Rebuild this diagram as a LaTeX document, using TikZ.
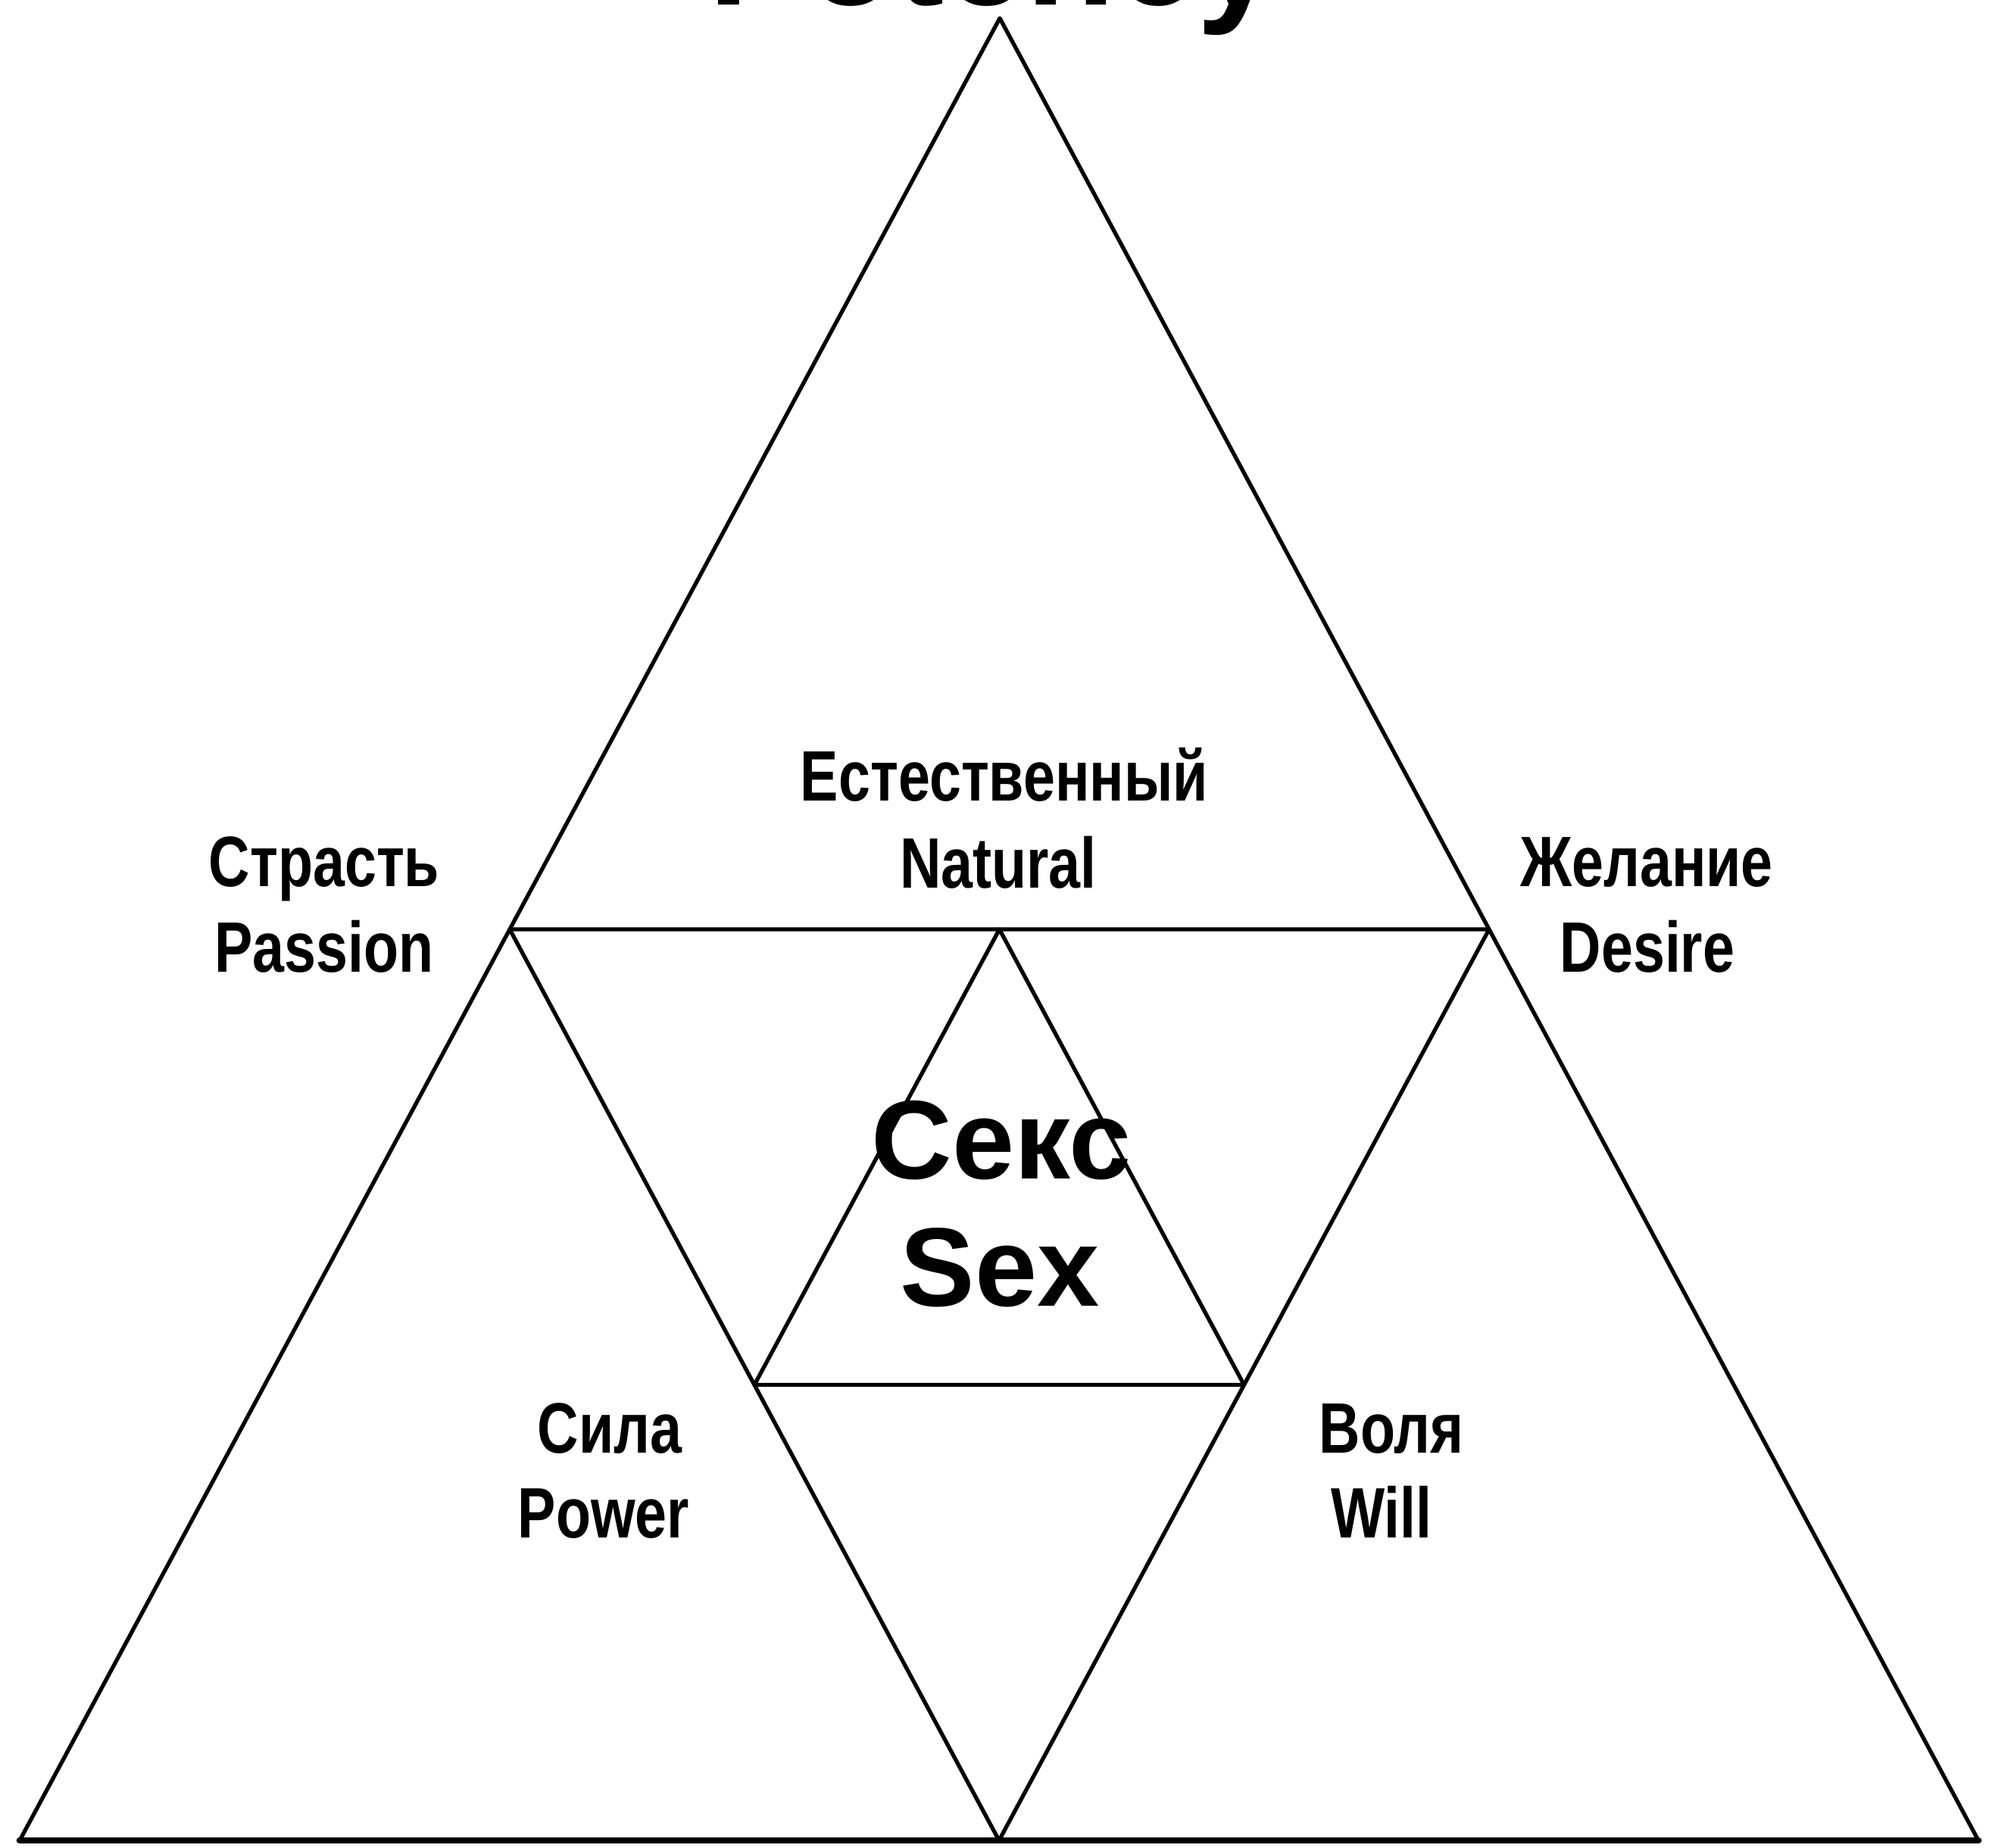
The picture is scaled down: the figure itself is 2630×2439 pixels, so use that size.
\documentclass[tikz,border=0pt]{standalone}
\usepackage{fontspec}
\setmainfont{Liberation Sans}
\newfontfamily\narrowsans[FakeStretch=0.80]{Liberation Sans}
\usetikzlibrary{calc}
\tikzset{
  edge/.style={line width=1.5pt},
  lbl/.style={anchor=base,inner sep=0pt,font=\narrowsans\bfseries\fontsize{26.8pt}{32pt}\selectfont},
  core/.style={anchor=base,inner sep=0pt,font=\bfseries\fontsize{42pt}{50pt}\selectfont},
  headline/.style={anchor=base,inner sep=0pt,font=\bfseries\fontsize{55pt}{66pt}\selectfont},
}
\begin{document}
\begin{tikzpicture}[x=0.01cm,y=-0.01cm,line cap=round,line join=round]
  \useasboundingbox (0,0) rectangle (2630,2439);
  \clip (0,0) rectangle (2630,2439);
  % corners of the big triangle
  \coordinate (apex) at (1320,24);
  \coordinate (left) at (26,2430);
  \coordinate (right) at (2612,2430);
  % midpoints
  \coordinate (ml) at ($(apex)!0.5!(left)$);
  \coordinate (mr) at ($(apex)!0.5!(right)$);
  \coordinate (mb) at ($(left)!0.5!(right)$);
  \coordinate (it) at ($(ml)!0.5!(mr)$);
  \coordinate (il) at ($(ml)!0.5!(mb)$);
  \coordinate (ir) at ($(mr)!0.5!(mb)$);
  \draw[edge] (apex) -- (left) -- (right) -- cycle;
  \draw[edge,line width=2.5pt] (left) -- (right);
  \draw[edge] (ml) -- (mr) -- (mb) -- cycle;
  \draw[edge] (it) -- (il) -- (ir) -- cycle;
  % title, cut by the top edge
  \node[headline] (title) at (1312,6) {Potency};
  % labels
  \node[lbl] (natru) at (1326,1057) {Естественный};
  \node[lbl] (naten) at (1318,1172) {Natural};
  \node[lbl] (pasru) at (428,1170) {Страсть};
  \node[lbl] (pasen) at (428,1283) {Passion};
  \node[lbl] (desru) at (2174,1170) {Желание};
  \node[lbl] (desen) at (2175,1283) {Desire};
  \node[lbl] (powru) at (805,1918) {Сила};
  \node[lbl] (powen) at (797,2030) {Power};
  \node[lbl] (wilru) at (1837,1918) {Воля};
  \node[lbl] (wilen) at (1824,2030) {Will};
  \node[core] (sexru) at (1322,1556) {Секс};
  \node[core] (sexen) at (1320,1724) {Sex};
\end{tikzpicture}
\end{document}
